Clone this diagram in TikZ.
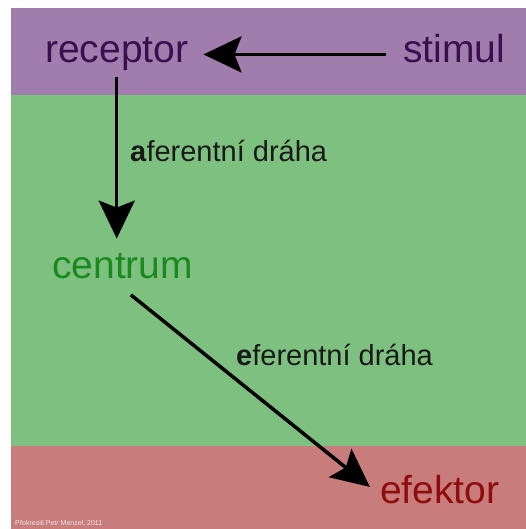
\documentclass[tikz,border=0pt]{standalone}
\usepackage{fontspec}
\setmainfont{Liberation Sans}
\usetikzlibrary{arrows.meta,calc}
\definecolor{bgpurple}{HTML}{A07DAC}
\definecolor{bggreen}{HTML}{7EC080}
\definecolor{bgred}{HTML}{C97C7C}
\definecolor{recc}{HTML}{3A0E50}
\definecolor{cenc}{HTML}{1B8A1E}
\definecolor{efc}{HTML}{8E0C0C}
\begin{document}
\begin{tikzpicture}[x=1pt,y=-1pt,
  big/.style={inner sep=0pt, anchor=base west, font=\fontsize{39}{39}\selectfont},
  lab/.style={inner sep=0pt, anchor=base west, font=\fontsize{29}{29}\selectfont, text=black!90},
  conn/.style={line width=3.5pt, -{Stealth[length=38pt,width=36pt,inset=7pt]}}]
\useasboundingbox (0,0) rectangle (526,529);
\fill[white] (0,0) rectangle (526,529);
\fill[bgpurple] (11,8) rectangle (526,95);
\fill[bggreen] (11,95) rectangle (526,446);
\fill[bgred] (11,446) rectangle (526,529);
\node[big, text=recc] (receptor) at (45,63) {receptor};
\node[big, text=recc] (stimul) at (403,63) {stimul};
\node[big, text=cenc] (centrum) at (52,278) {centrum};
\node[big, text=efc] (efektor) at (380,503) {efektor};
\node[lab] (aff) at (130,162) {\textbf{a}ferentní dráha};
\node[lab] (eff) at (236,365) {\textbf{e}ferentní dráha};
\node[inner sep=0pt, anchor=base west, font=\fontsize{7}{7}\selectfont, text=white!80!bgred] (credit) at (15,525) {Překreslil Petr Menzel, 2011};
\draw[conn, shorten <=17pt, shorten >=15pt] (stimul.west |- receptor.east) -- (receptor.east);
\draw[conn, shorten <=6pt, shorten >=14pt] (receptor.south) -- (receptor.south |- centrum.north);
\draw[conn, shorten <=26pt, shorten >=13pt] ($(centrum.south)+(-12,0)$) -- ($(efektor.west)+(0,6)$);
\end{tikzpicture}
\end{document}
